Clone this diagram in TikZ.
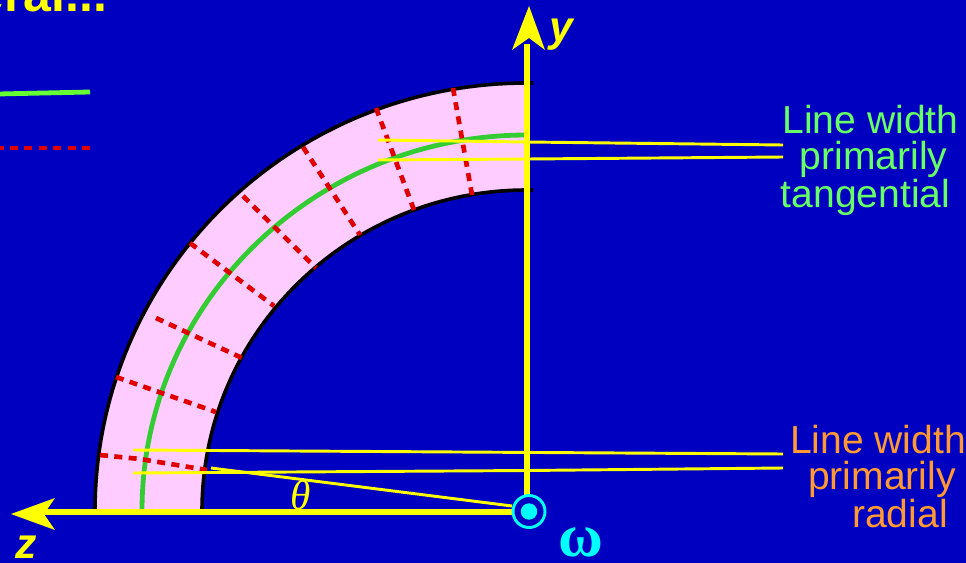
\documentclass[tikz,border=0pt]{standalone}
\usepackage{fontspec}
\setmainfont{Liberation Sans}
\newfontfamily\serifgreek{Liberation Serif}
\definecolor{bgblue}{HTML}{0000C0}
\definecolor{bandpink}{HTML}{FFCCFF}
\definecolor{arcgreen}{HTML}{33CC33}
\definecolor{leggreen}{HTML}{66FF33}
\definecolor{labgreen}{HTML}{66FF66}
\definecolor{labor}{HTML}{FF9933}
\definecolor{dashred}{HTML}{E00000}
\definecolor{axisyel}{HTML}{FFFF00}
\definecolor{omegacy}{HTML}{00FFFF}
\tikzset{
  x=0.75pt,y=-0.75pt,
  axisline/.style={draw=axisyel,line width=4.4pt},
  guide/.style={draw=axisyel,line width=2.2pt},
  tip/.style={fill=axisyel,draw=none},
  radial/.style={draw=dashred,line width=3.5pt,dash pattern=on 6pt off 4.8pt},
  edgearc/.style={draw=black,line width=2.7pt},
  midarc/.style={draw=arcgreen,line width=3.6pt},
  sidelabel/.style={align=center,font=\fontsize{29.3}{27}\selectfont,inner sep=0pt,anchor=base},
  axislabel/.style={text=axisyel,font=\fontsize{32}{32}\bfseries\itshape\selectfont,inner sep=0pt,anchor=base},
}
\begin{document}
\begin{tikzpicture}
\path[use as bounding box,fill=bgblue] (0,0) rectangle (966,563);
\clip (0,0) rectangle (966,563);
\coordinate (c) at (527,511);
% band
\fill[bandpink] (95,511) arc[start angle=180,end angle=90,x radius=432,y radius=-428]
  -- (527,190) arc[start angle=90,end angle=180,x radius=325,y radius=-321] -- cycle;
\draw[edgearc] (95,511) arc[start angle=180,end angle=90,x radius=432,y radius=-428] -- (533,83);
\draw[edgearc] (202,511) arc[start angle=180,end angle=90,x radius=325,y radius=-321] -- (533,190);
\draw[midarc] (142,511) arc[start angle=180,end angle=90,x radius=385,y radius=-376];
% radial dashes
\coordinate (r1a) at (453,88);  \coordinate (r1b) at (472,195);
\coordinate (r2a) at (376,108); \coordinate (r2b) at (414,210);
\coordinate (r3a) at (303,147); \coordinate (r3b) at (360,235);
\coordinate (r4a) at (243,196); \coordinate (r4b) at (316,268);
\coordinate (r5a) at (190,243); \coordinate (r5b) at (274,306);
\coordinate (r6a) at (156,318); \coordinate (r6b) at (242,358);
\coordinate (r7a) at (116,377); \coordinate (r7b) at (216,412);
\draw[radial] (r1a) -- (r1b);
\draw[radial] (r2a) -- (r2b);
\draw[radial] (r3a) -- (r3b);
\draw[radial] (r4a) -- (r4b);
\draw[radial] (r5a) -- (r5b);
\draw[radial] (r6a) -- (r6b);
\draw[radial] (r7a) -- (r7b);
\draw[radial] (100,455) -- (140,459) -- (207,470);
% axes
\draw[axisline] (527,511) -- (527,44);
\fill[tip] (529,6) -- (545,50) -- (529,38) -- (512,50) -- cycle;
\draw[axisline] (515,512) -- (40,512);
\fill[tip] (11,514) -- (55,498) -- (44,514) -- (55,530) -- cycle;
% guides
\node[sidelabel,text=labgreen] (tang) at (870.5,207) {Line width\\\hspace*{4.5pt}primarily\\\hspace*{-7.5pt}tangential};
\node[sidelabel,text=labor] (rad) at (878,527.5) {Line width\\\hspace*{6pt}primarily\\\hspace*{33pt}radial};
\coordinate (t1) at (783,145); \coordinate (t2) at (783,157);
\coordinate (r1) at (783,454); \coordinate (r2) at (783,468);
\draw[guide] (378,140) -- (527,142) -- (t1);
\draw[guide] (378,160) -- (527,159) -- (t2);
\draw[guide] (133,450) -- (r1);
\draw[guide] (133,473) -- (527,470.5) -- (r2);
\draw[guide] (211,468) -- (512,506);
% omega symbol
\node[circle,draw=omegacy,line width=2.2pt,fill=bgblue,minimum size=24pt,inner sep=0pt] (om) at (529,511.5) {};
\fill[omegacy] (om.center) circle (8.2);
\node[inner sep=0pt,anchor=base,text=omegacy,font=\serifgreek\fontsize{46}{46}\bfseries\selectfont] (omlab) at (581,556) {ω};
\node[inner sep=0pt,anchor=base,text=axisyel,font=\serifgreek\fontsize{31}{31}\itshape\selectfont] (th) at (301,509) {θ};
\node[axislabel] (ylab) at (561,42) {y};
\node[axislabel] (zlab) at (26,558) {z};
% title fragment
\node[inner sep=0pt,anchor=base east,text=axisyel,font=\fontsize{37.5}{37.5}\bfseries\selectfont] (title) at (107.5,12) {eral...};
% legend
\coordinate (lg) at (90,92);
\coordinate (lr) at (90,148);
\draw[draw=leggreen,line width=3.6pt] (-2,94) -- (lg);
\draw[radial] (lr) -- (-2,148);
\end{tikzpicture}
\end{document}
